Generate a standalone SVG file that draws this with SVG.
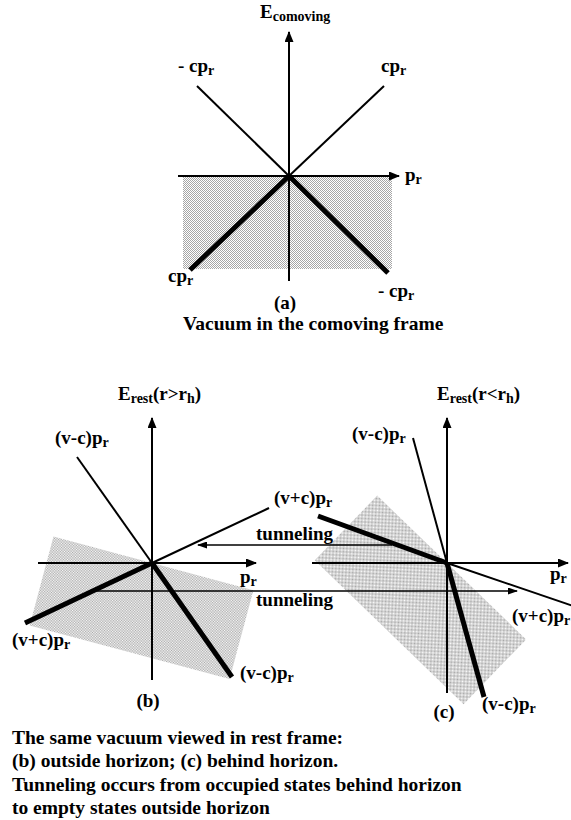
<svg xmlns="http://www.w3.org/2000/svg" width="571" height="820" viewBox="0 0 571 820">
<style>
text{font-family:"Liberation Serif","Times New Roman",serif;font-weight:bold;font-size:19px;fill:#000}
.sub{font-size:14px}
.cap{font-size:19.5px}
.thin{stroke:#000;stroke-width:2;fill:none}
.thick{stroke:#000;stroke-width:5;fill:none}
.axis{stroke:#000;stroke-width:2;fill:none}
.tun{stroke:#000;stroke-width:1.5;fill:none}
.shade{fill:url(#dots)}
</style>
<defs>
<pattern id="dots" width="2" height="2" patternUnits="userSpaceOnUse">
<rect width="2" height="2" fill="#fff"/>
<rect width="1" height="1" fill="#a6a6a6"/>
<rect x="1" y="1" width="1" height="1" fill="#a6a6a6"/>
</pattern>
<marker id="ah" viewBox="0 0 11 9" refX="10" refY="4.5" markerWidth="11" markerHeight="9" markerUnits="userSpaceOnUse" orient="auto">
<path d="M0,0 L11,4.5 L0,9 z" fill="#000"/>
</marker>
<marker id="ahs" viewBox="0 0 10 7" refX="9" refY="3.5" markerWidth="10" markerHeight="7" markerUnits="userSpaceOnUse" orient="auto">
<path d="M0,0 L10,3.5 L0,7 z" fill="#000"/>
</marker>
</defs>

<g id="panel-a">
<rect class="shade" x="183" y="177" width="209" height="92"/>
<line class="thin" x1="289" y1="176" x2="197" y2="86"/>
<line class="thin" x1="289" y1="176" x2="384" y2="86"/>
<line class="thick" x1="289" y1="176" x2="190" y2="270"/>
<line class="thick" x1="289" y1="176" x2="388" y2="273"/>
<line class="axis" x1="289" y1="281" x2="289" y2="32" marker-end="url(#ah)"/>
<line class="axis" x1="178" y1="176" x2="399" y2="176" marker-end="url(#ah)"/>
<text x="260" y="18">E<tspan class="sub" dy="3">comoving</tspan></text>
<text x="178" y="72">- cp<tspan class="sub" dy="3">r</tspan></text>
<text x="381" y="72">cp<tspan class="sub" dy="3">r</tspan></text>
<text x="405" y="181">p<tspan class="sub" dy="3">r</tspan></text>
<text x="168" y="282">cp<tspan class="sub" dy="3">r</tspan></text>
<text x="378" y="297">- cp<tspan class="sub" dy="3">r</tspan></text>
<text x="285" y="309" text-anchor="middle">(a)</text>
<text class="cap" x="183" y="330">Vacuum in the comoving frame</text>
</g>

<g id="panel-b">
<rect class="shade" x="-102" y="0" width="207" height="92" transform="translate(152,563) rotate(15)"/>
<line class="thin" x1="152" y1="563" x2="77" y2="457"/>
<line class="thick" x1="152" y1="563" x2="232" y2="677"/>
<line class="thin" x1="152" y1="563" x2="269" y2="508"/>
<line class="thick" x1="152" y1="563" x2="25" y2="623"/>
<line class="axis" x1="152" y1="680" x2="152" y2="418" marker-end="url(#ah)"/>
<line class="axis" x1="38" y1="563" x2="256" y2="563" marker-end="url(#ah)"/>
<text x="118" y="400">E<tspan class="sub" dy="3">rest</tspan><tspan dy="-3">(r&gt;r</tspan><tspan class="sub" dy="3">h</tspan><tspan dy="-3">)</tspan></text>
<text x="55" y="444">(v-c)p<tspan class="sub" dy="3">r</tspan></text>
<text x="274" y="504">(v+c)p<tspan class="sub" dy="3">r</tspan></text>
<text x="240" y="583">p<tspan class="sub" dy="3">r</tspan></text>
<text x="12" y="646">(v+c)p<tspan class="sub" dy="3">r</tspan></text>
<text x="240" y="679">(v-c)p<tspan class="sub" dy="3">r</tspan></text>
<text x="148" y="707" text-anchor="middle">(b)</text>
</g>

<g id="panel-c">
<rect class="shade" x="-97" y="0" width="207" height="90" transform="translate(447,563) rotate(44)"/>
<line class="thin" x1="447" y1="563" x2="413" y2="438"/>
<line class="thick" x1="447" y1="563" x2="484" y2="697"/>
<line class="thick" x1="447" y1="563" x2="318" y2="516"/>
<line class="thin" x1="447" y1="563" x2="576" y2="607"/>
<line class="axis" x1="447" y1="693" x2="447" y2="418" marker-end="url(#ah)"/>
<line class="axis" x1="312" y1="563" x2="568" y2="563" marker-end="url(#ah)"/>
<text x="437" y="400">E<tspan class="sub" dy="3">rest</tspan><tspan dy="-3">(r&lt;r</tspan><tspan class="sub" dy="3">h</tspan><tspan dy="-3">)</tspan></text>
<text x="352" y="440">(v-c)p<tspan class="sub" dy="3">r</tspan></text>
<text x="550" y="580">p<tspan class="sub" dy="3">r</tspan></text>
<text x="512" y="622">(v+c)p<tspan class="sub" dy="3">r</tspan></text>
<text x="482" y="710">(v-c)p<tspan class="sub" dy="3">r</tspan></text>
<text x="444" y="718" text-anchor="middle">(c)</text>
</g>

<g id="connectors">
<line class="tun" x1="392" y1="545" x2="198" y2="545" marker-end="url(#ahs)"/>
<line class="tun" x1="95" y1="591" x2="517" y2="591" marker-end="url(#ahs)"/>
<text x="256" y="540">tunneling</text>
<text x="256" y="606">tunneling</text>
</g>

<g id="caption">
<text class="cap" x="12" y="744">The same vacuum viewed in rest frame:</text>
<text class="cap" x="12" y="767">(b) outside horizon; (c) behind horizon.</text>
<text class="cap" x="12" y="791">Tunneling occurs from occupied states behind horizon</text>
<text class="cap" x="12" y="814">to empty states outside horizon</text>
</g>
</svg>
